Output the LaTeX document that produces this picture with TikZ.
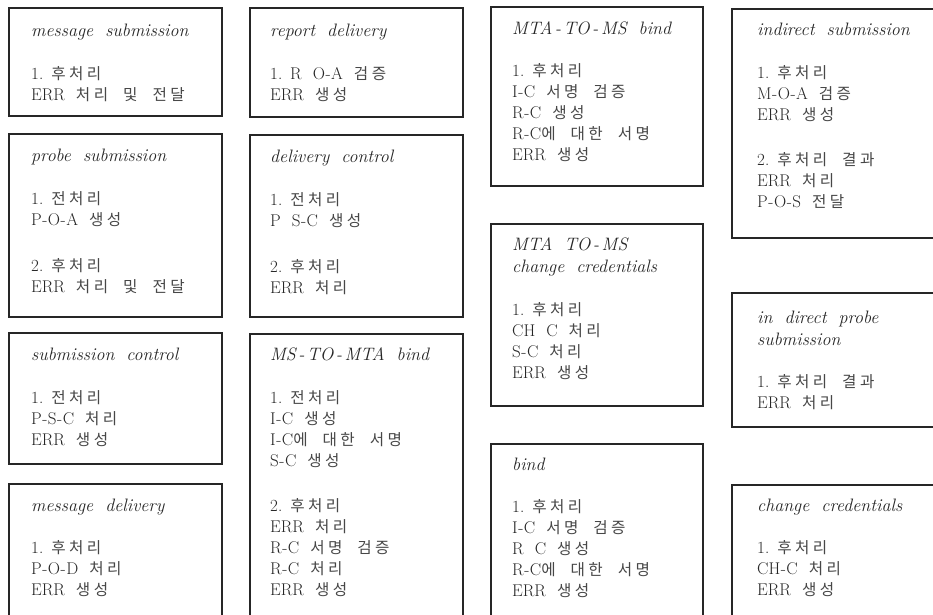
\documentclass[tikz,border=0pt]{standalone}
\usepackage{fontspec}
\newfontfamily\kr[Scale=0.92]{Noto Sans CJK KR}
\XeTeXinterchartokenstate=1
\newXeTeXintercharclass\hgcls
\count255="AC00
\loop
  \XeTeXcharclass\count255=\hgcls
  \ifnum\count255<"D7A3 \advance\count255 by 1
\repeat
\XeTeXinterchartoks\hgcls\hgcls={\kern3.4pt}
\newcommand\K[1]{{\kr\color{black!72}\spaceskip=15pt plus 2pt minus 1pt\relax #1}}
\newcommand\ttl[1]{{\fontsize{18}{22}\selectfont\itshape\spaceskip=12pt plus 2pt minus 1pt\relax #1}}
\newcommand\nm[1]{#1.\kern8pt}
\newcommand\hy{\kern0.5pt-\kern0.5pt}
\newcommand\thy{\kern2.5pt-\kern2.5pt}
\newcommand\txtfont{\fontsize{17}{21}\selectfont\spaceskip=11pt plus 2pt minus 1pt\relax}
\begin{document}
\begin{tikzpicture}[x=1pt,y=-1pt,
  box/.style={draw=black!85, line width=1.1pt},
  txt/.style={anchor=north west, inner sep=0pt, align=left, text=black!85,
     font={\txtfont}}]
\useasboundingbox (0,0) rectangle (933,614);
\fill[white] (0,0) rectangle (933,614);
% column A
\draw[box] (9,8) rectangle (222,116);
\node[txt] (a1) at (31,23.5) {\ttl{message submission}\\[22pt]\nm{1}\K{후처리}\\ERR \K{처리 및 전달}};
\draw[box] (9,134) rectangle (222,317);
\node[txt] (a2) at (31,149) {\ttl{probe submission}\\[22pt]\nm{1}\K{전처리}\\P\hy O\hy A \K{생성}\\[24.5pt]\nm{2}\K{후처리}\\ERR \K{처리 및 전달}};
\draw[box] (9,333) rectangle (222,464);
\node[txt] (a3) at (31,348) {\ttl{submission control}\\[22pt]\nm{1}\K{전처리}\\P\hy S\hy C \K{처리}\\ERR \K{생성}};
\draw[box] (9,484) rectangle (222,640);
\node[txt] (a4) at (31,498.5) {\ttl{message delivery}\\[21.5pt]\nm{1}\K{후처리}\\P\hy O\hy D \K{처리}\\ERR \K{생성}};
% column B
\draw[box] (250,8) rectangle (463,117);
\node[txt] (b1) at (270,23.5) {\ttl{report delivery}\\[22pt]\nm{1}R O\hy A \K{검증}\\ERR \K{생성}};
\draw[box] (250,135) rectangle (463,317);
\node[txt] (b2) at (270,150) {\ttl{delivery control}\\[22pt]\nm{1}\K{전처리}\\P S\hy C \K{생성}\\[24.5pt]\nm{2}\K{후처리}\\ERR \K{처리}};
\draw[box] (250,334) rectangle (463,640);
\node[txt] (b3) at (270,347.5) {\ttl{MS\thy TO\thy MTA bind}\\[21.5pt]\nm{1}\K{전처리}\\I\hy C \K{생성}\\I\hy C\K{에 대한 서명}\\S\hy C \K{생성}\\[24.5pt]\nm{2}\K{후처리}\\ERR \K{처리}\\R\hy C \K{서명 검증}\\R\hy C \K{처리}\\ERR \K{생성}};
% column C
\draw[box] (491,7) rectangle (703,186);
\node[txt] (c1) at (512,21) {\ttl{MTA\thy TO\thy MS bind}\\[21.5pt]\nm{1}\K{후처리}\\I\hy C \K{서명 검증}\\R\hy C \K{생성}\\R\hy C\K{에 대한 서명}\\ERR \K{생성}};
\draw[box] (491,224) rectangle (703,406);
\node[txt] (c2) at (512,237.5) {\ttl{MTA TO\thy MS}\\[1pt]\ttl{change credentials}\\[21.5pt]\nm{1}\K{후처리}\\CH C \K{처리}\\S\hy C \K{처리}\\ERR \K{생성}};
\draw[box] (491,444) rectangle (703,640);
\node[txt] (c3) at (512,457.5) {\ttl{bind}\\[21.5pt]\nm{1}\K{후처리}\\I\hy C \K{서명 검증}\\R C \K{생성}\\R\hy C\K{에 대한 서명}\\ERR \K{생성}};
% column D
\draw[box] (732,9) rectangle (950,238);
\node[txt] (d1) at (757,23) {\ttl{indirect submission}\\[21.5pt]\nm{1}\K{후처리}\\M\hy O\hy A \K{검증}\\ERR \K{생성}\\[24.5pt]\nm{2}\K{후처리 결과}\\ERR \K{처리}\\P\hy O\hy S \K{전달}};
\draw[box] (732,293) rectangle (950,427);
\node[txt] (d2) at (757,310.5) {\ttl{in direct probe}\\[1pt]\ttl{submission}\\[21.5pt]\nm{1}\K{후처리 결과}\\ERR \K{처리}};
\draw[box] (732,485) rectangle (950,640);
\node[txt] (d3) at (757,498.5) {\ttl{change credentials}\\[21.5pt]\nm{1}\K{후처리}\\CH\hy C \K{처리}\\ERR \K{생성}};
\end{tikzpicture}
\end{document}
